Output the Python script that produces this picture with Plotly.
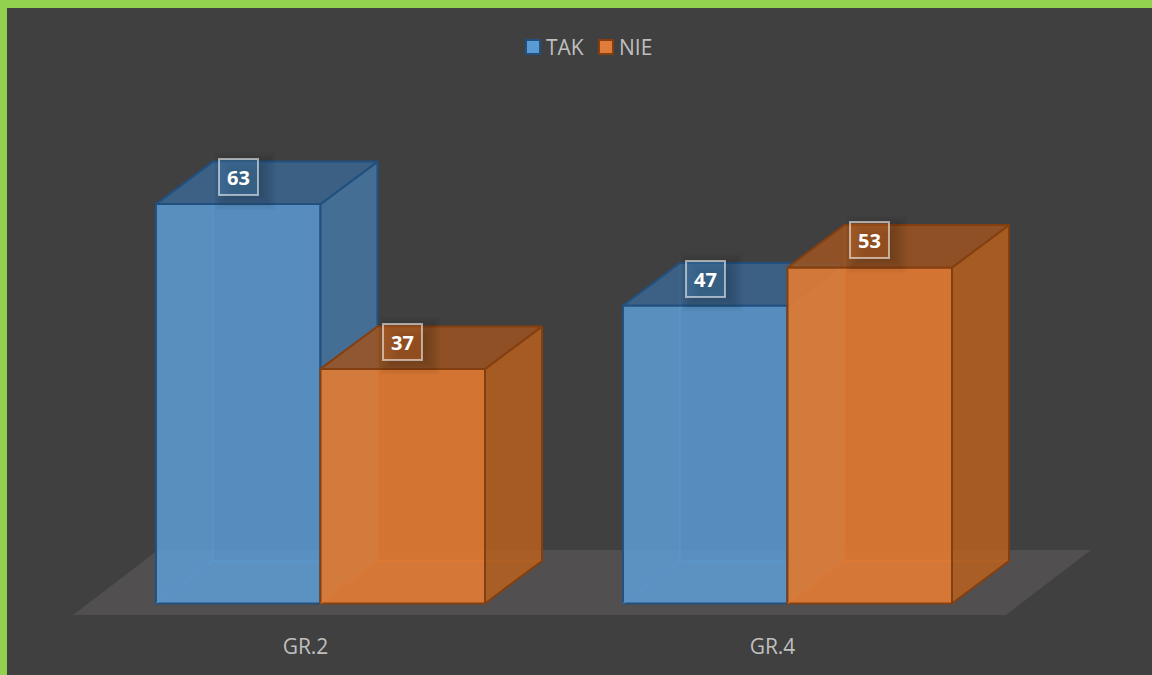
import plotly.graph_objects as go

categories = ["GR.2", "GR.4"]
series_names = ["TAK", "NIE"]
tak_values = [63, 47]
nie_values = [37, 53]

WIDTH, HEIGHT = 1152, 675
BOTTOM_MARGIN = 45
PX_PER_GROUP = 467.0
PX_PER_UNIT = 6.34
CENTER0_PX = 320.5
ZERO_PX = 603.5
BAR_W = 164.5 / PX_PER_GROUP
DX = 57 / PX_PER_GROUP
DY = 42.5 / PX_PER_UNIT
TICK_SHIFT = 15 / PX_PER_GROUP

x_range = [-CENTER0_PX / PX_PER_GROUP, (WIDTH - CENTER0_PX) / PX_PER_GROUP]
y_range = [(ZERO_PX - (HEIGHT - BOTTOM_MARGIN)) / PX_PER_UNIT, ZERO_PX / PX_PER_UNIT]
positions = list(range(len(categories)))

FONT = "Open Sans"
TEXT = "#BFBFBF"
BLUE_EDGE = "#21507F"
ORANGE_EDGE = "#843F10"
BLUE_FRONT = "rgba(91,155,213,0.85)"
ORANGE_FRONT = "rgba(224,120,50,0.92)"

fig = go.Figure()


def poly(xs, ys, fill, line, axis, width=2):
    fig.add_trace(go.Scatter(
        x=xs + xs[:1], y=ys + ys[:1], mode="lines", fill="toself", fillcolor=fill,
        line=dict(color=line, width=width), showlegend=False, hoverinfo="skip",
        xaxis="x" + axis, yaxis="y" + axis,
    ))


# floor, on the base axes
floor_low = -(615 - ZERO_PX) / PX_PER_UNIT
floor_high = floor_low + (615 - 550) / PX_PER_UNIT
floor_slant = 85 / PX_PER_GROUP
floor_left = (73 - CENTER0_PX) / PX_PER_GROUP
floor_right = (1006 - CENTER0_PX) / PX_PER_GROUP
poly([floor_left, floor_right, floor_right + floor_slant, floor_left + floor_slant],
     [floor_low, floor_low, floor_high, floor_high],
     "#514F4F", "rgba(0,0,0,0)", "", 0)


def boxes(name, values, offset, axis, front, top, side, edge, glow):
    fig.add_trace(go.Bar(
        name=name, x=positions, y=values, width=BAR_W, offset=offset,
        marker=dict(color=front, line=dict(color=edge, width=2)),
        xaxis="x" + axis, yaxis="y" + axis, hoverinfo="skip",
    ))
    for p, v in zip(positions, values):
        l = p + offset
        r = l + BAR_W
        # faces seen through the translucent front
        poly([l, l + DX, l + DX, l], [0, DY, v + DY, v], "rgba(255,255,255,0.02)", "rgba(0,0,0,0)", axis, 0)
        poly([l, r, r + DX, l + DX], [0, 0, DY, DY], "rgba(255,255,255,0.02)", "rgba(0,0,0,0)", axis, 0)
        fig.add_trace(go.Scatter(
            x=[l + DX, l + DX, r + DX], y=[v + DY, DY, DY], mode="lines",
            line=dict(color=glow, width=2), showlegend=False, hoverinfo="skip",
            xaxis="x" + axis, yaxis="y" + axis,
        ))
        fig.add_trace(go.Scatter(
            x=[l, l + DX], y=[0, DY], mode="lines",
            line=dict(color=glow, width=2), showlegend=False, hoverinfo="skip",
            xaxis="x" + axis, yaxis="y" + axis,
        ))
        poly([r, r + DX, r + DX, r], [0, DY, v + DY, v], side, edge, axis)
        poly([l, r, r + DX, l + DX], [v, v, v + DY, v + DY], top, edge, axis)


boxes(series_names[0], tak_values, -BAR_W, "2", BLUE_FRONT, "rgba(59,102,143,0.85)",
      "rgba(70,119,165,0.85)", BLUE_EDGE, "rgba(91,155,213,0.35)")
boxes(series_names[1], nie_values, 0.0, "3", ORANGE_FRONT, "rgba(156,83,32,0.85)",
      "rgba(184,96,31,0.85)", ORANGE_EDGE, "rgba(237,125,49,0.35)")

# data labels with their soft shadow
LABEL_LIFT = 27 / PX_PER_UNIT
LABEL_W, LABEL_H = 37, 34
shapes = []
annotations = []
for values, offset, tint in ((tak_values, -BAR_W, "rgba(91,155,213,0.28)"),
                             (nie_values, 0.0, "rgba(237,125,49,0.28)")):
    for p, v in zip(positions, values):
        cx = p + offset + BAR_W / 2
        cy = v + LABEL_LIFT
        for grow in (-6, -4, -2, 0, 2, 4, 6, 8, 10, 12):
            hw = (LABEL_W / 2 + grow) / PX_PER_GROUP
            hh = (LABEL_H / 2 + grow) / PX_PER_UNIT
            sx = 7 / PX_PER_GROUP
            sy = 4 / PX_PER_UNIT
            shapes.append(dict(
                type="rect", xref="x", yref="y", layer="above",
                x0=cx - hw + sx, x1=cx + hw + sx, y0=cy - hh - sy, y1=cy + hh - sy,
                fillcolor="rgba(0,0,0,0.022)", line=dict(width=0),
            ))
        annotations.append(dict(
            x=cx, y=cy, xref="x", yref="y", text=f"<b>{v}</b>", showarrow=False,
            font=dict(family=FONT, size=20, color="#FFFFFF"),
            bgcolor=tint, bordercolor="rgba(255,255,255,0.55)", borderwidth=2,
            width=LABEL_W, height=LABEL_H, borderpad=0, align="center", valign="middle",
        ))

plot_h = HEIGHT - BOTTOM_MARGIN

# green frame, top and left
paper_bottom = -BOTTOM_MARGIN / plot_h
shapes.append(dict(type="rect", xref="paper", yref="paper", x0=0, x1=7 / WIDTH,
                   y0=paper_bottom, y1=1, fillcolor="#92D050", line=dict(width=0), layer="below"))
shapes.append(dict(type="rect", xref="paper", yref="paper", x0=0, x1=1,
                   y0=1 - 8 / plot_h, y1=1, fillcolor="#92D050",
                   line=dict(width=0), layer="below"))

# legend row: swatch and name per series
LEGEND_Y = 1 - 47 / plot_h
legend_swatch_px = [526, 599]
legend_text_px = [545, 618]
swatch_fill = ["#5B9BD5", "#E07B39"]
swatch_edge = [BLUE_EDGE, ORANGE_EDGE]
for name, sx, tx, fill, edge in zip(series_names, legend_swatch_px, legend_text_px, swatch_fill, swatch_edge):
    shapes.append(dict(type="rect", xref="paper", yref="paper",
                       x0=sx / WIDTH, x1=(sx + 14) / WIDTH,
                       y0=LEGEND_Y - 7 / plot_h, y1=LEGEND_Y + 7 / plot_h,
                       fillcolor=fill, line=dict(color=edge, width=2), layer="above"))
    annotations.append(dict(x=tx / WIDTH, y=LEGEND_Y, xref="paper", yref="paper", text=name,
                            showarrow=False, xanchor="left", yanchor="middle", borderpad=0,
                            font=dict(family=FONT, size=21, color=TEXT)))

hidden = dict(visible=False, fixedrange=True)
fig.update_layout(
    width=WIDTH, height=HEIGHT, autosize=False,
    margin=dict(l=0, r=0, t=0, b=BOTTOM_MARGIN, pad=0),
    paper_bgcolor="#404040", plot_bgcolor="rgba(0,0,0,0)",
    font=dict(family=FONT, size=21, color=TEXT),
    barmode="overlay", showlegend=False,
    xaxis=dict(range=x_range, tickmode="array", tickvals=[p - TICK_SHIFT for p in positions],
               ticktext=categories, showgrid=False, zeroline=False, showline=False, ticks="",
               ticklabelstandoff=2, tickfont=dict(family=FONT, size=21, color=TEXT), fixedrange=True),
    yaxis=dict(range=y_range, **hidden),
    xaxis2=dict(range=x_range, overlaying="x", **hidden),
    yaxis2=dict(range=y_range, overlaying="y", **hidden),
    xaxis3=dict(range=x_range, overlaying="x", **hidden),
    yaxis3=dict(range=y_range, overlaying="y", **hidden),
    shapes=shapes, annotations=annotations,
)

fig.write_html("out.html", config=dict(displayModeBar=False),
               post_script="document.body.style.margin='0';document.body.style.overflow='hidden';")
